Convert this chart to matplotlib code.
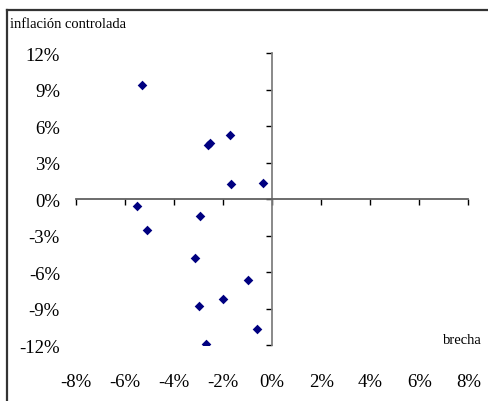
import matplotlib
matplotlib.use("Agg")
import matplotlib.pyplot as plt
from matplotlib.lines import Line2D
from matplotlib import transforms

# brecha (x) vs inflación controlada (y), in percent
brecha = [-5.30, -2.61, -2.53, -1.72, -1.66, -0.36, -5.53, -2.96, -5.12,
          -3.15, -0.99, -1.99, -2.99, -0.63, -2.70]
inflacion = [9.37, 4.48, 4.62, 5.30, 1.29, 1.37, -0.55, -1.37, -2.56,
             -4.81, -6.65, -8.16, -8.74, -10.66, -11.90]

x_ticks = [-8, -6, -4, -2, 0, 2, 4, 6, 8]
y_ticks = [-12, -9, -6, -3, 0, 3, 6, 9, 12]

plt.rcParams['font.family'] = ['Liberation Serif', 'DejaVu Serif']

fig = plt.figure(figsize=(4.88, 4.01), dpi=100)
ax = fig.add_axes([0.1557, 0.1389, 0.8039, 0.7282])

ax.scatter(brecha, inflacion, marker='D', s=24, color='#000080',
           linewidths=0, zorder=3)

ax.set_xlim(-8, 8)
ax.set_ylim(-12, 12)
ax.set_xticks(x_ticks)
ax.set_yticks(y_ticks)
ax.set_xticklabels([])
ax.set_yticklabels([])

for s in ['top', 'right']:
    ax.spines[s].set_visible(False)
ax.spines['left'].set_position(('data', 0))
ax.spines['bottom'].set_position(('data', 0))
ax.spines['left'].set_color('#808080')
ax.spines['bottom'].set_color('#606060')
ax.spines['left'].set_linewidth(1.3)
ax.spines['bottom'].set_linewidth(1.3)
ax.tick_params(direction='out', length=4, width=1, color='black')
ax.patch.set_visible(False)

# tick labels placed at the low side of the plot area, like Excel
tx = transforms.blended_transform_factory(ax.transData, ax.transAxes)
ty = transforms.blended_transform_factory(ax.transAxes, ax.transData)
tx = transforms.offset_copy(tx, fig=fig, y=-2, units='dots')
ty = transforms.offset_copy(ty, fig=fig, y=-3, units='dots')
for v in x_ticks:
    ax.text(v, -0.119, f"{v}%", transform=tx, ha='center', va='center',
            fontsize=13.5)
for v in y_ticks:
    ax.text(-0.041, v, f"{v}%", transform=ty, ha='right', va='center',
            fontsize=13.5)

fig.text(10 / 488, 1 - 24 / 401, "inflación controlada", ha='left',
         va='center', fontsize=10.5)
fig.text(482 / 488, 1 - 340 / 401, "brecha", ha='right', va='center',
         fontsize=10.5)

# chart border (cut off at right and bottom)
fig.add_artist(Line2D([7 / 488, 7 / 488], [0, 1 - 10 / 401],
                      transform=fig.transFigure, color='#333333', lw=1.6))
fig.add_artist(Line2D([7 / 488, 1], [1 - 10 / 401, 1 - 10 / 401],
                      transform=fig.transFigure, color='#333333', lw=1.6))

fig.savefig("out.png", dpi=100)
